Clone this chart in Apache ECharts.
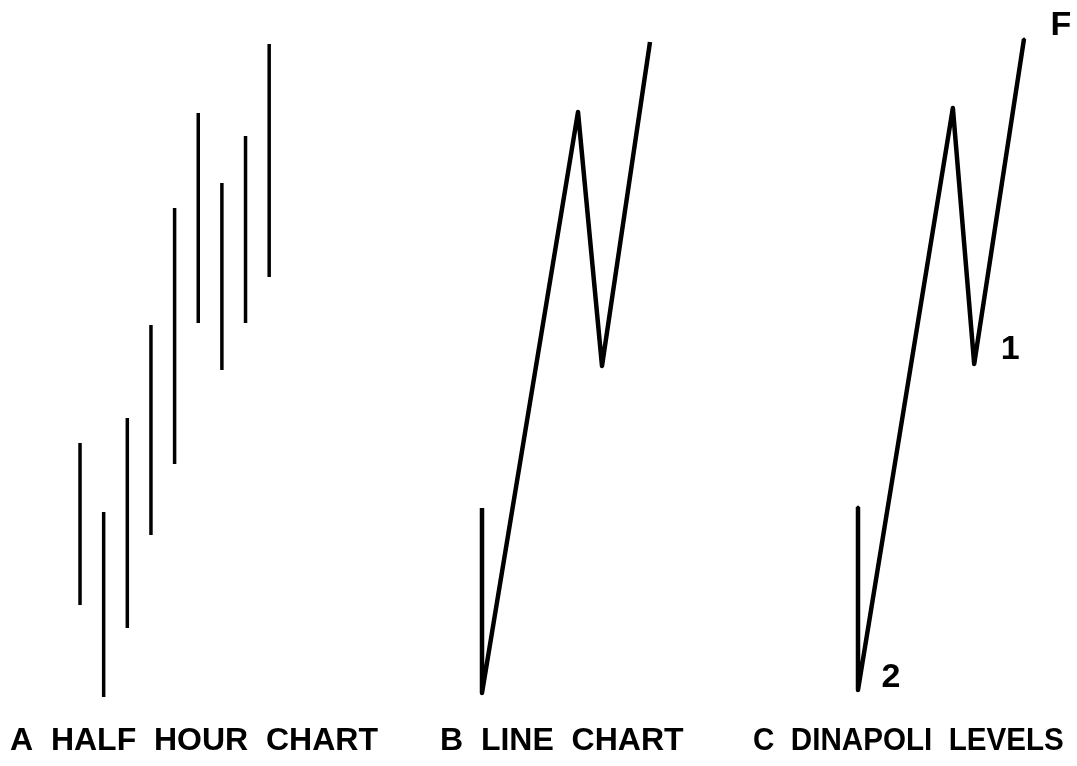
<!DOCTYPE html>
<html>
<head>
<meta charset="utf-8">
<script src="https://cdn.jsdelivr.net/npm/echarts@6/dist/echarts.min.js"></script>
<style>
  html, body { margin: 0; padding: 0; background: #fff; }
  #main { width: 1077px; height: 766px; }
</style>
</head>
<body>
<div id="main"></div>
<script>
// A: half hour bars (high / low)
var barNames = ["1", "2", "3", "4", "5", "6", "7", "8", "9"];
var barHigh = [26.7, 19.8, 29.2, 38.5, 50.2, 59.7, 52.7, 57.4, 66.6];
var barLow = [10.5, 1.3, 8.2, 17.5, 24.6, 38.7, 34.0, 38.7, 43.3];

// B: line chart (time, price) - first two points are the starting bar
var lineBTime = [0, 0, 4.0, 5.0, 7.0];
var lineBPrice = [20.2, 1.7, 59.8, 34.4, 66.8];

// C: dinapoli levels
var lineCTime = [0, 0, 4.0, 4.9, 7.0];
var lineCPrice = [20.3, 2.0, 60.2, 34.6, 67.1];
var lineCLabels = ["", "2", "", "1", "F"];

var captions = ["A  HALF  HOUR  CHART", "B  LINE  CHART", "C  DINAPOLI  LEVELS"];

var labelFont = { color: "#000", fontFamily: "Liberation Sans", fontWeight: "bold", fontSize: 34 };
var labelOffsets = { "2": [17, -12], "1": [20, -14], "F": [20, -13] };

var chart = echarts.init(document.getElementById("main"));

var cData = lineCTime.map(function (t, i) {
  var item = { value: [t, lineCPrice[i]] };
  if (lineCLabels[i]) {
    item.label = Object.assign({
      show: true,
      position: "right",
      formatter: lineCLabels[i],
      offset: labelOffsets[lineCLabels[i]]
    }, labelFont);
  }
  return item;
});

function caption(text, x, sx) {
  return {
    type: "text",
    x: x,
    y: 725,
    scaleX: sx,
    style: { x: 0, y: 0, text: text, font: "bold 32px 'Liberation Sans'", fill: "#000" }
  };
}

var option = {
  backgroundColor: "#fff",
  animation: false,
  grid: [
    { left: 68.2, right: 796, top: 20, bottom: 56 },
    { left: 482, right: 427, top: 20, bottom: 56 },
    { left: 858, right: 53, top: 20, bottom: 56 }
  ],
  xAxis: [
    { gridIndex: 0, type: "category", data: barNames, boundaryGap: true, show: false },
    { gridIndex: 1, type: "value", min: 0, max: 7, show: false },
    { gridIndex: 2, type: "value", min: 0, max: 7, show: false }
  ],
  yAxis: [
    { gridIndex: 0, type: "value", min: 0, max: 69, show: false },
    { gridIndex: 1, type: "value", min: 0, max: 69, show: false },
    { gridIndex: 2, type: "value", min: 0, max: 69, show: false }
  ],
  series: [
    {
      type: "custom",
      xAxisIndex: 0,
      yAxisIndex: 0,
      data: barNames.map(function (n, i) { return [i, barHigh[i], barLow[i]]; }),
      renderItem: function (params, api) {
        var top = api.coord([api.value(0), api.value(1)]);
        var bottom = api.coord([api.value(0), api.value(2)]);
        return {
          type: "line",
          shape: { x1: top[0], y1: top[1], x2: bottom[0], y2: bottom[1] },
          style: { stroke: "#000", lineWidth: 3.5 }
        };
      }
    },
    {
      type: "line",
      xAxisIndex: 1,
      yAxisIndex: 1,
      data: lineBTime.map(function (t, i) { return [t, lineBPrice[i]]; }),
      symbol: "none",
      lineStyle: { color: "#000", width: 4.5, join: "round" }
    },
    {
      type: "line",
      xAxisIndex: 2,
      yAxisIndex: 2,
      data: cData,
      symbol: "circle",
      symbolSize: 3,
      itemStyle: { color: "#000" },
      lineStyle: { color: "#000", width: 4.5, join: "round" }
    }
  ],
  graphic: [
    caption(captions[0], 10, 1),
    caption(captions[1], 440, 1),
    caption(captions[2], 753, 0.925)
  ]
};

chart.setOption(option);
</script>
</body>
</html>
